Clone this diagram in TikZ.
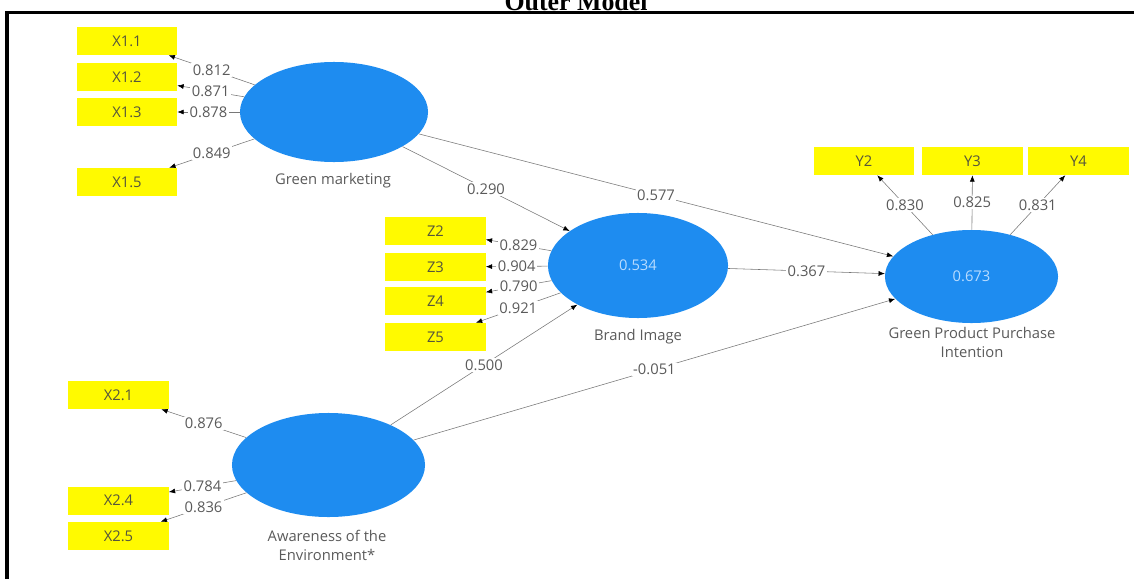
\documentclass[tikz,border=0pt]{standalone}
\usepackage{fontspec}
\setmainfont{Open Sans}
\newfontfamily\titlefont{Liberation Serif}
\usetikzlibrary{shapes.geometric,arrows.meta}

\definecolor{plsblue}{RGB}{30,140,240}
\definecolor{plsyellow}{RGB}{255,250,0}
\definecolor{boxtext}{RGB}{85,85,60}
\definecolor{valgray}{RGB}{90,90,90}
\definecolor{linegray}{RGB}{120,120,120}
\definecolor{innerval}{RGB}{185,220,255}

\begin{document}
\begin{tikzpicture}[x=0.025cm,y=-0.025cm,font=\fontsize{10.5}{13.5}\selectfont]

      \useasboundingbox (0,0) rectangle (1134,579);
      \draw[line width=0.075cm] (7,579) -- (7,12.3) -- (1134,12.3);
      \node[anchor=base,font=\titlefont\bfseries\fontsize{18.4}{22}\selectfont] (title) at (576,10.5) {Outer Model};

      \begin{scope}[every node/.style={ellipse,fill=plsblue,inner sep=0pt,text=innerval}]
        \node[minimum width=4.7cm,minimum height=2.5cm]     (GM)   at (334,112)     {};
        \node[minimum width=4.5cm,minimum height=2.625cm]   (BI)   at (638,265.5)   {0.534};
        \node[minimum width=4.325cm,minimum height=2.325cm] (GPPI) at (971.5,276.5) {0.673};
        \node[minimum width=4.825cm,minimum height=2.6cm]   (AE)   at (328.5,465)   {};
      \end{scope}

      \begin{scope}[every node/.style={text=valgray,align=center}]
        \node (GMlabel)   at (333,181) {Green marketing};
        \node (BIlabel)   at (638,337) {Brand Image};
        \node (GPPIlabel) at (972,342) {Green Product Purchase\\Intention};
        \node (AElabel)   at (327,545) {Awareness of the\\Environment*};
      \end{scope}

      \begin{scope}[every node/.style={fill=plsyellow,text=boxtext,minimum width=2.5cm,minimum height=0.7cm,inner sep=0pt}]
        \node (X11) at (127,41)      {X1.1};
        \node (X12) at (127,77)      {X1.2};
        \node (X13) at (127,112)     {X1.3};
        \node (X15) at (127,182)     {X1.5};
        \node (Z2)  at (435.5,231)   {Z2};
        \node (Z3)  at (435.5,267)   {Z3};
        \node (Z4)  at (435.5,301)   {Z4};
        \node (Z5)  at (435.5,337)   {Z5};
        \node (Y2)  at (864,161)     {Y2};
        \node (Y3)  at (972.5,161)   {Y3};
        \node (Y4)  at (1078.5,161)  {Y4};
        \node (X21) at (118.5,395)   {X2.1};
        \node (X24) at (118.5,500.5) {X2.4};
        \node (X25) at (118.5,536)   {X2.5};
      \end{scope}

      \begin{scope}[every node/.style={fill=white,text=valgray,inner sep=1pt}]

        \begin{scope}[every edge/.style={draw=linegray,-{Latex[length=4.5pt,width=3.5pt,black]}}]
          \path (GM)   edge node {0.812} (X11);
          \path (GM)   edge node {0.871} (X12);
          \path (GM)   edge node {0.878} (X13);
          \path (GM)   edge node {0.849} (X15);
          \path (BI)   edge node {0.829} (Z2);
          \path (BI)   edge node {0.904} (Z3);
          \path (BI)   edge node {0.790} (Z4);
          \path (BI)   edge node {0.921} (Z5);
          \path (GPPI) edge node {0.830} (Y2);
          \path (GPPI) edge node {0.825} (Y3);
          \path (GPPI) edge node {0.831} (Y4);
          \path (AE)   edge node {0.876} (X21);
          \path (AE)   edge node {0.784} (X24);
          \path (AE)   edge node {0.836} (X25);
          \path (GM)   edge node {0.290} (BI);
          \path (GM)   edge node {0.577} (GPPI);
          \path (BI)   edge node {0.367} (GPPI);
          \path (AE)   edge node {0.500} (BI);
          \path (AE)   edge node {-0.051} (GPPI);
        \end{scope}
      \end{scope}

    \end{tikzpicture}
\end{document}
